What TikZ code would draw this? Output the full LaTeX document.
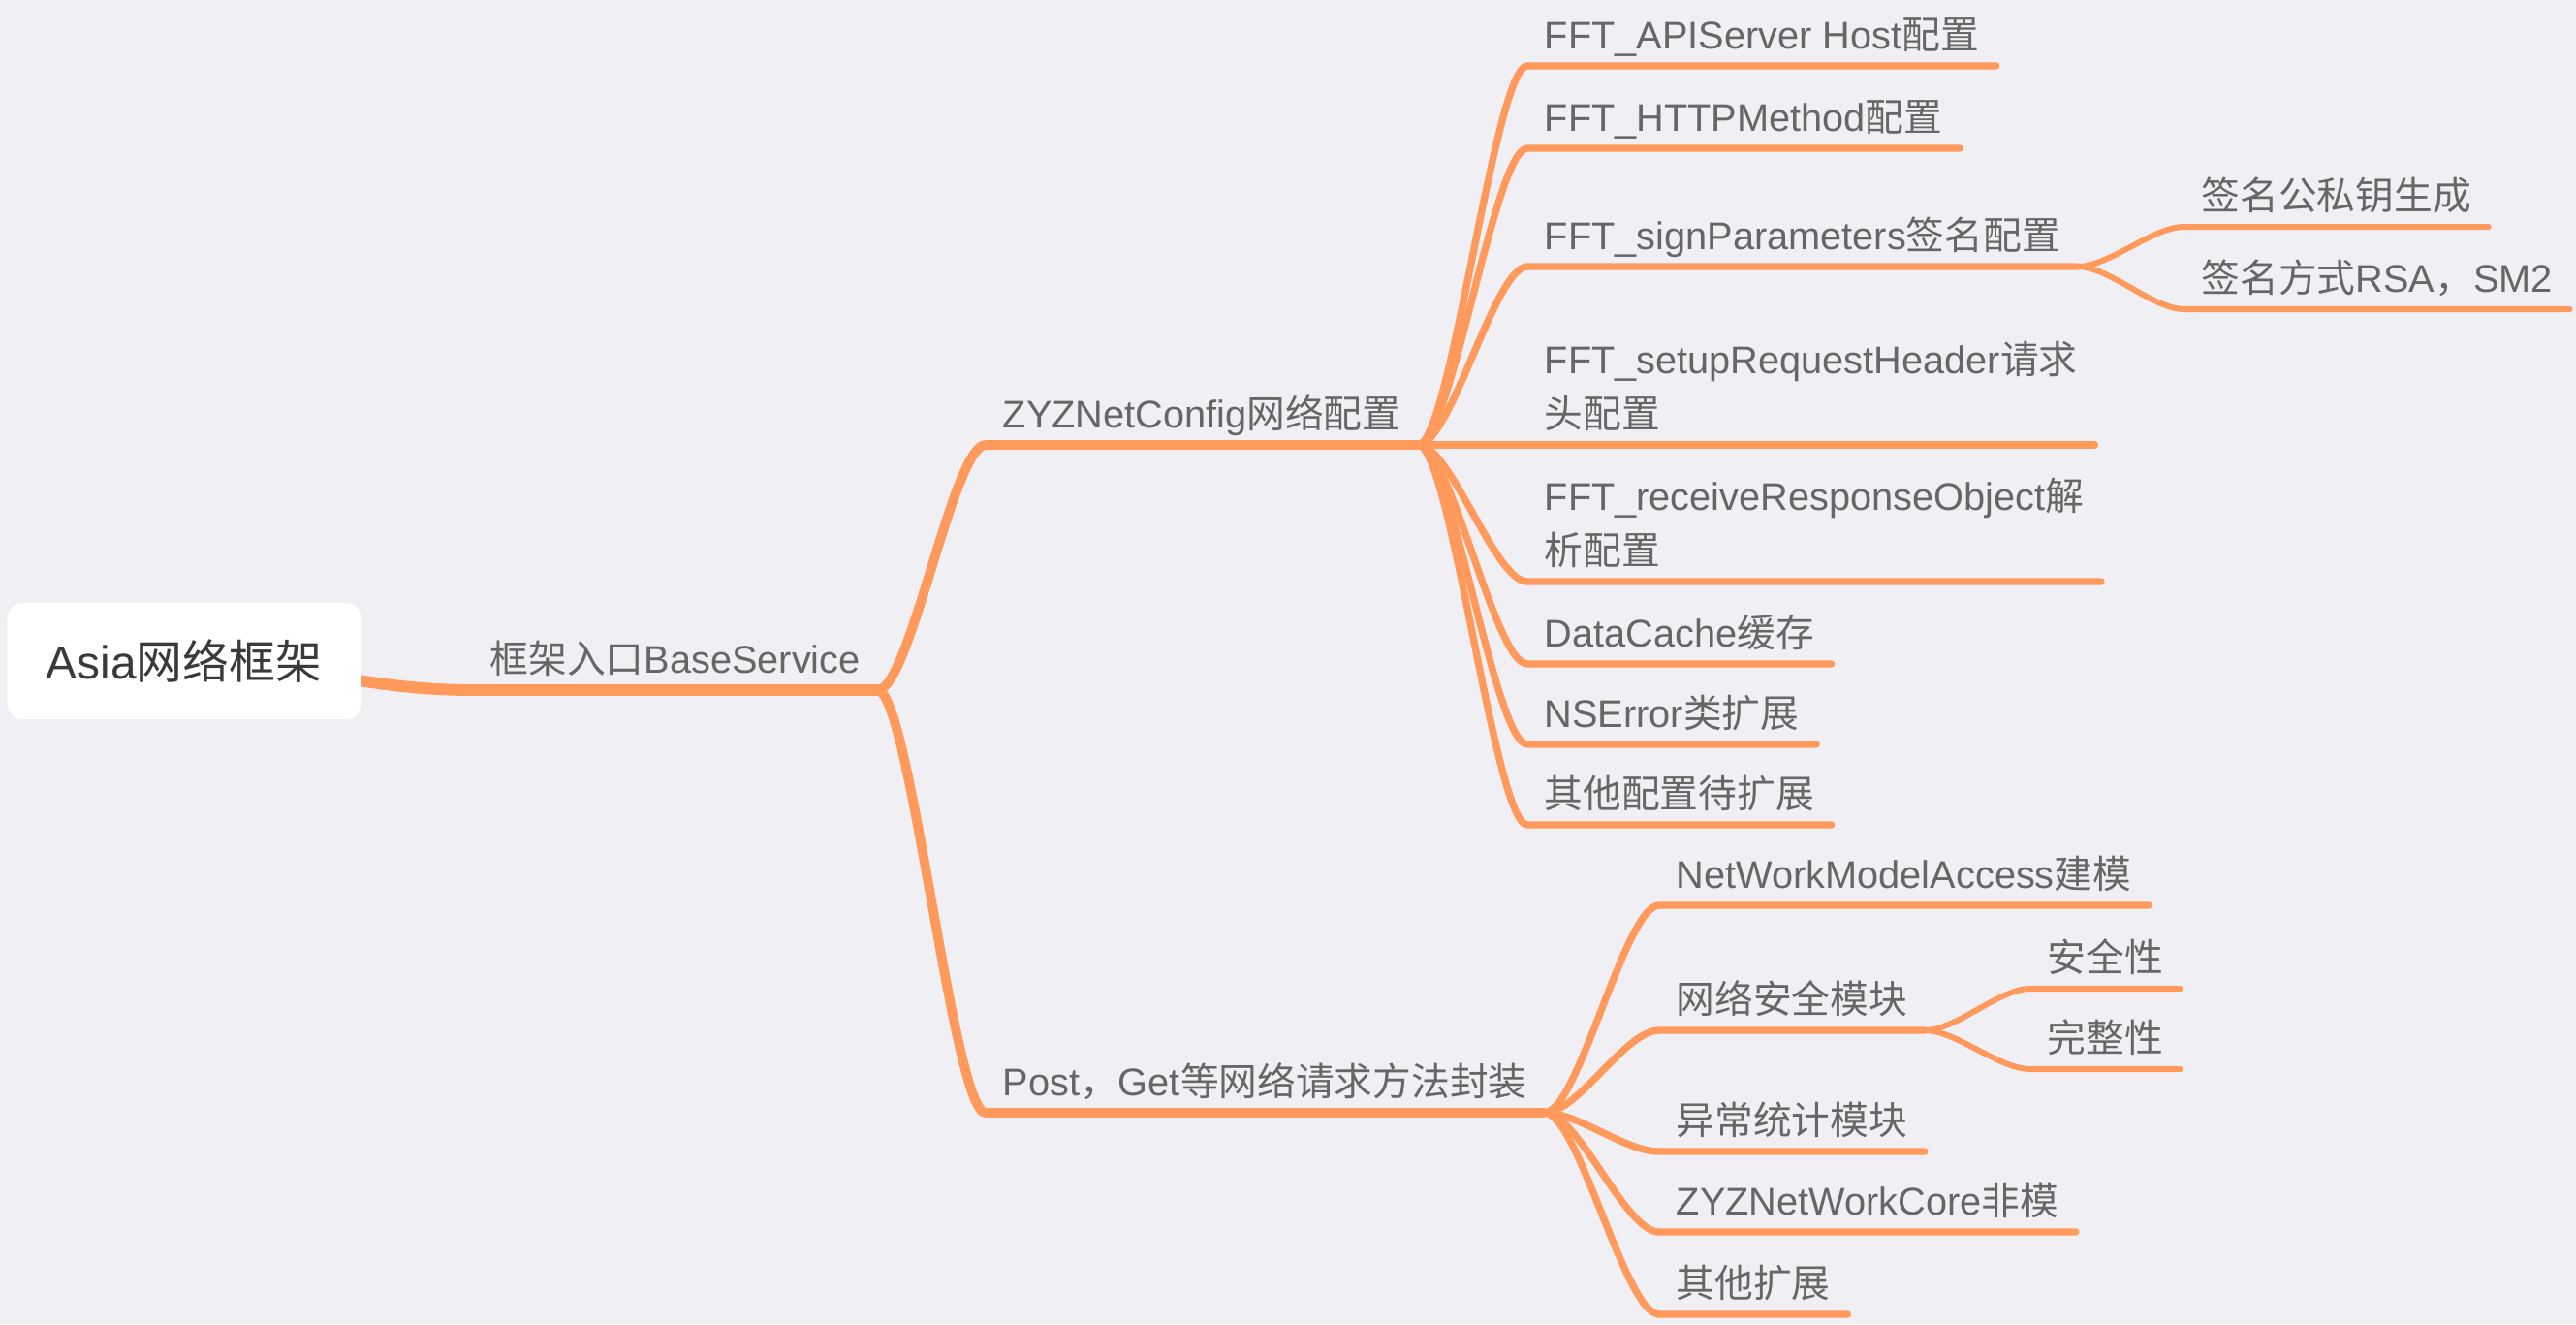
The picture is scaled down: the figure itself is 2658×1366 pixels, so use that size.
\documentclass[tikz,border=0pt]{standalone}
\usepackage{fontspec}
\setmainfont{Liberation Sans}
\newfontfamily\cjk{Noto Sans CJK SC}
\usetikzlibrary{calc}
\pgfdeclarelayer{bg}
\pgfsetlayers{bg,main}
\tikzset{
  every node/.style={font=\fontsize{11.3}{15.9}\selectfont, text=labelgray},
  topic/.style={anchor=south west, inner xsep=0.17cm, inner ysep=0, align=left,
    execute at begin node=\strut, execute at end node=\strut},
  rootbox/.style={fill=white, rounded corners=0.16cm, minimum width=3.65cm,
    minimum height=1.2cm, inner sep=0, text=rootgray, font=\fontsize{13.6}{16}\selectfont},
  branch/.style={draw=branchcol, line cap=round, line join=round},
  lvl1/.style={branch, line width=3.4pt},
  lvl2/.style={branch, line width=2.8pt},
  lvl3/.style={branch, line width=2.1pt},
  lvl4/.style={branch, line width=1.7pt},
  sweep/.style={to path={let \p1=(\tikztostart), \p2=(\tikztotarget) in
    .. controls ({\x1+0.3*(\x2-\x1)}, \y1)
    and ({\x2-0.3*(\x2-\x1)}, \y2) .. (\tikztotarget)}}
}

\begin{document}
\begin{tikzpicture}[x=0.01cm, y=-0.01cm]
  % Colours of the mind map.
  \definecolor{bgcol}{RGB}{239,239,244}
  \definecolor{branchcol}{RGB}{255,154,92}
  \definecolor{labelgray}{RGB}{102,102,102}
  \definecolor{rootgray}{RGB}{58,58,58}

  \useasboundingbox (0,0) rectangle (2658,1366);
  \begin{pgfonlayer}{bg}
    \fill[bgcol] (0,0) rectangle (2658,1366);
  \end{pgfonlayer}

  % Central topic.
  \node[rootbox] (root) at (190,682) {Asia{\cjk 网络框架}};

  % Main branches.
  \node[topic] (base) at (488,712) {{\cjk 框架入口}BaseService};
  \node[topic] (zyz) at (1017,459) {ZYZNetConfig{\cjk 网络配置}};
  \node[topic] (post) at (1017,1148) {Post{\cjk ，}Get{\cjk 等网络请求方法封装}};

  % Config topics.
  \node[topic] (api) at (1576,68) {FFT\_APIServer Host{\cjk 配置}};
  \node[topic] (http) at (1576,153) {FFT\_HTTPMethod{\cjk 配置}};
  \node[topic] (sign) at (1576,275) {FFT\_signParameters{\cjk 签名配置}};
  \node[topic] (header) at (1576,459) {FFT\_setupRequestHeader{\cjk 请求}\\{\cjk 头配置}};
  \node[topic] (resp) at (1576,600) {FFT\_receiveResponseObject{\cjk 解}\\{\cjk 析配置}};
  \node[topic] (cache) at (1576,685) {DataCache{\cjk 缓存}};
  \node[topic] (nserr) at (1576,768) {NSError{\cjk 类扩展}};
  \node[topic] (other) at (1576,851) {{\cjk 其他配置待扩展}};

  % Signing sub-topics.
  \node[topic] (keys) at (2254,234) {{\cjk 签名公私钥生成}};
  \node[topic] (rsa) at (2254,319) {{\cjk 签名方式}RSA{\cjk ，}SM2};

  % Request topics.
  \node[topic] (model) at (1712,934) {NetWorkModelAccess{\cjk 建模}};
  \node[topic] (safe) at (1712,1063) {{\cjk 网络安全模块}};
  \node[topic] (stat) at (1712,1188) {{\cjk 异常统计模块}};
  \node[topic] (core) at (1712,1271) {ZYZNetWorkCore{\cjk 非模}};
  \node[topic] (ext) at (1712,1356) {{\cjk 其他扩展}};

  % Security sub-topics.
  \node[topic] (sec) at (2095,1020) {{\cjk 安全性}};
  \node[topic] (integ) at (2095,1103) {{\cjk 完整性}};

  % Connectors, behind the boxes.
  \begin{pgfonlayer}{bg}
    \draw[lvl1] (root.center) to[out=0, in=180] (base.south west) -- (base.south east);
    \draw[lvl2] (base.south east) to[sweep] (zyz.south west) -- (zyz.south east);
    \draw[lvl2] (base.south east) to[sweep] (post.south west) -- (post.south east);

    \draw[lvl3] (zyz.south east) to[sweep] (api.south west) -- (api.south east);
    \draw[lvl3] (zyz.south east) to[sweep] (http.south west) -- (http.south east);
    \draw[lvl3] (zyz.south east) to[sweep] (sign.south west) -- (sign.south east);
    \draw[lvl3] (zyz.south east) to[sweep] (header.south west) -- (header.south east);
    \draw[lvl3] (zyz.south east) to[sweep] (resp.south west) -- (resp.south east);
    \draw[lvl3] (zyz.south east) to[sweep] (cache.south west) -- (cache.south east);
    \draw[lvl3] (zyz.south east) to[sweep] (nserr.south west) -- (nserr.south east);
    \draw[lvl3] (zyz.south east) to[sweep] (other.south west) -- (other.south east);

    \draw[lvl4] (sign.south east) to[sweep] (keys.south west) -- (keys.south east);
    \draw[lvl4] (sign.south east) to[sweep] (rsa.south west) -- (rsa.south east);

    \draw[lvl3] (post.south east) to[sweep] (model.south west) -- (model.south east);
    \draw[lvl3] (post.south east) to[sweep] (safe.south west) -- (safe.south east);
    \draw[lvl3] (post.south east) to[sweep] (stat.south west) -- (stat.south east);
    \draw[lvl3] (post.south east) to[sweep] (core.south west) -- (core.south east);
    \draw[lvl3] (post.south east) to[sweep] (ext.south west) -- (ext.south east);

    \draw[lvl4] (safe.south east) to[sweep] (sec.south west) -- (sec.south east);
    \draw[lvl4] (safe.south east) to[sweep] (integ.south west) -- (integ.south east);
  \end{pgfonlayer}
\end{tikzpicture}
\end{document}
